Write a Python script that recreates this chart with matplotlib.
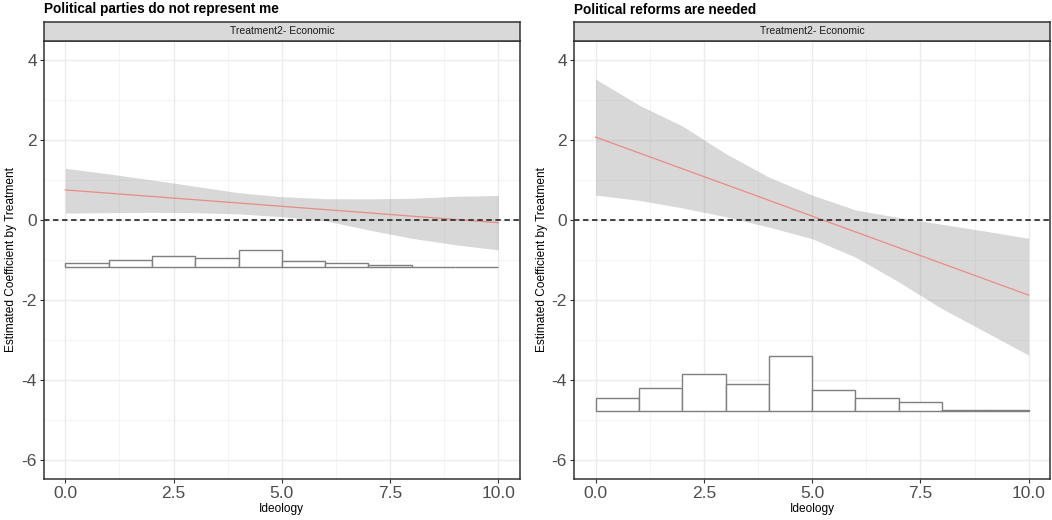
import numpy as np
import matplotlib
matplotlib.use("Agg")
import matplotlib.pyplot as plt
from matplotlib.ticker import MultipleLocator

plt.rcParams['font.family'] = ['Liberation Sans', 'DejaVu Sans']

# ---- data ----
ideology = [0, 1, 2, 3, 4, 5, 6, 7, 8, 9, 10]
bin_edges = [0, 1, 2, 3, 4, 5, 6, 7, 8, 9]  # left edges, width 1

# panel 1: Political parties do not represent me
parties_est = [0.75, -0.07]          # line at x=0 and x=10
parties_upper = [1.29, 1.15, 1.00, 0.84, 0.68, 0.58, 0.53, 0.525, 0.54, 0.59, 0.61]
parties_lower = [0.17, 0.18, 0.19, 0.18, 0.15, 0.08, -0.02, -0.25, -0.46, -0.62, -0.75]
parties_hist_base = -1.175
parties_hist_top = [-1.067, -1.01, -0.91, -0.96, -0.76, -1.03, -1.075, -1.12, -1.17, -1.17]

# panel 2: Political reforms are needed
reforms_est = [2.07, -1.88]
reforms_upper = [3.52, 2.87, 2.35, 1.66, 1.07, 0.62, 0.25, 0.06, -0.11, -0.28, -0.46]
reforms_lower = [0.62, 0.49, 0.30, 0.08, -0.18, -0.47, -0.93, -1.55, -2.22, -2.80, -3.38]
reforms_hist_base = -4.78
reforms_hist_top = [-4.46, -4.21, -3.86, -4.11, -3.40, -4.26, -4.44, -4.56, -4.74, -4.74]

titles = ["Political parties do not represent me", "Political reforms are needed"]
strip_label = "Treatment2- Economic"

W, H = 1052, 520
fig = plt.figure(figsize=(W / 100, H / 100), dpi=100)

panels = [
    (43.7, parties_est, parties_upper, parties_lower, parties_hist_base, parties_hist_top),
    (574.0, reforms_est, reforms_upper, reforms_lower, reforms_hist_base, reforms_hist_top),
]

ax_w = 476.3 / W
ax_b = 1 - 478.7 / H
ax_h = (478.7 - 40.7) / H
strip_h = 18.7 / H

for i, (left_px, est, upper, lower, base, tops) in enumerate(panels):
    ax = fig.add_axes([left_px / W, ax_b, ax_w, ax_h])
    ax.set_xlim(-0.5, 10.5)
    ax.set_ylim(-6.47, 4.48)

    # grid like theme_bw
    ax.xaxis.set_major_locator(MultipleLocator(2.5))
    ax.xaxis.set_minor_locator(MultipleLocator(1.25))
    ax.yaxis.set_major_locator(MultipleLocator(2))
    ax.yaxis.set_minor_locator(MultipleLocator(1))
    ax.grid(which='major', color='#EBEBEB', linewidth=1.0, zorder=0)
    ax.grid(which='minor', color='#F2F2F2', linewidth=0.6, zorder=0)
    ax.set_axisbelow(True)

    # histogram of the moderator
    heights = np.array(tops) - base
    ax.bar(bin_edges, heights, width=1, bottom=base, align='edge',
           facecolor='white', edgecolor='#7F7F7F', linewidth=1.0, zorder=2)

    # confidence band and estimate
    ax.fill_between(ideology, lower, upper, color='#808080', alpha=0.3,
                    linewidth=0, zorder=3)
    ax.plot([ideology[0], ideology[-1]], est, color='#EE8A82', linewidth=0.9, zorder=4)
    ax.axhline(0, color='#333333', linestyle=(0, (3, 2)), linewidth=1.3, zorder=5)

    ax.set_xticks([0, 2.5, 5, 7.5, 10])
    ax.set_xticklabels(['0.0', '2.5', '5.0', '7.5', '10.0'])
    ax.set_yticks([-6, -4, -2, 0, 2, 4])
    ax.set_yticklabels(['-6', '-4', '-2', '0', '2', '4'])
    ax.tick_params(which='major', length=3, width=0.8, color='#333333',
                   labelsize=12.5, labelcolor='#4D4D4D', pad=2)
    ax.tick_params(which='minor', length=0)
    for sp in ax.spines.values():
        sp.set_color('#333333')
        sp.set_linewidth(1.1)

    ax.set_xlabel('Ideology', fontsize=8.6, labelpad=2)
    ax.set_ylabel('Estimated Coefficient by Treatment', fontsize=8.6, labelpad=3)

    # facet strip
    sax = fig.add_axes([left_px / W, ax_b + ax_h, ax_w, strip_h])
    sax.set_facecolor('#D9D9D9')
    sax.set_xticks([])
    sax.set_yticks([])
    for sp in sax.spines.values():
        sp.set_color('#333333')
        sp.set_linewidth(1.1)
    sax.text(0.5, 0.5, strip_label, ha='center', va='center', fontsize=7.5,
             color='#1A1A1A', transform=sax.transAxes)

    fig.text(left_px / W, 1 - 13.5 / H, titles[i], fontsize=9.8, fontweight='bold',
             ha='left', va='baseline', color='black')

fig.savefig('out.png', dpi=100)
